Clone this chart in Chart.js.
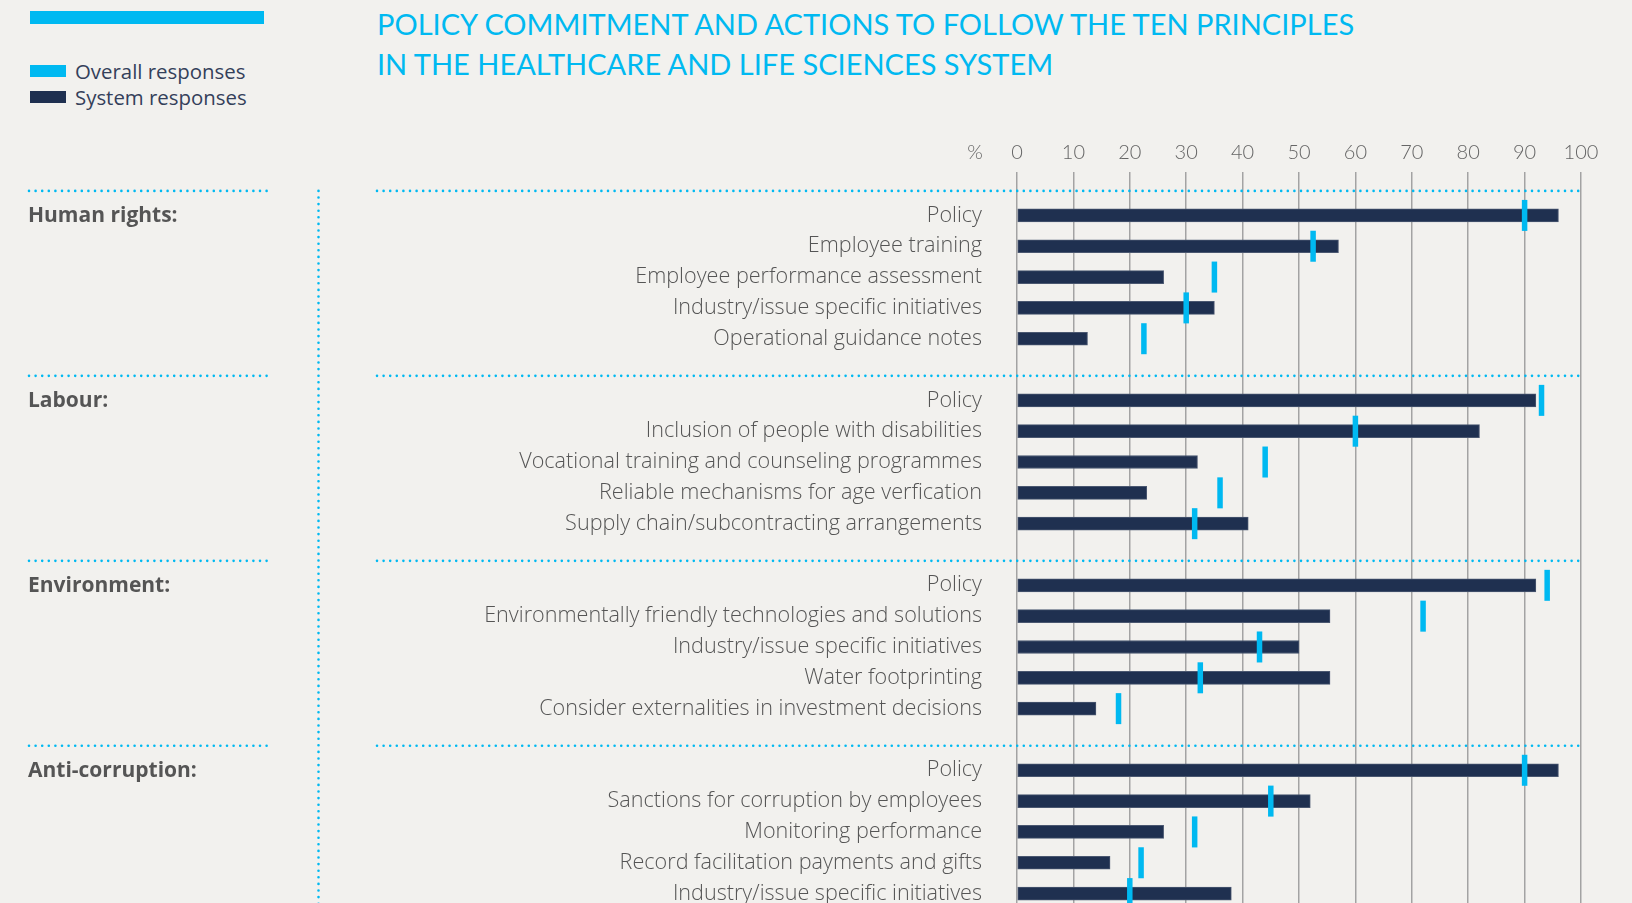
<!DOCTYPE html>
<html lang="en">
<head>
<meta charset="UTF-8">
<title>Policy commitment and actions</title>
<script src="https://cdn.jsdelivr.net/npm/chart.js"></script>
<style>
    html, body {
        margin: 0;
        padding: 0;
        background: #f2f1ee;
        overflow: hidden;
        font-family: 'Open Sans', Lato, sans-serif;
    }
    .topbar {
        position: absolute;
        left: 30px;
        top: 11px;
        width: 234px;
        height: 13px;
        background: #00b9f1;
    }
    .legend {
        position: absolute;
        left: 30px;
        top: 58px;
        font-size: 20.4px;
        color: #34405a;
    }
    .legend div {
        height: 26px;
        display: flex;
        align-items: center;
    }
    .legend span {
        display: inline-block;
        width: 36px;
        height: 12px;
        margin-right: 9px;
    }
    h1 {
        position: absolute;
        left: 377px;
        top: 4px;
        margin: 0;
        font-family: Lato, sans-serif;
        font-size: 29px;
        line-height: 40px;
        font-weight: 400;
        color: #00b9f1;
    }
    canvas {
        position: absolute;
        left: 0;
        top: 0;
    }
</style>
</head>
<body>

<div class="topbar"></div>
<div class="legend">
    <div><span style="background:#00b9f1"></span>Overall responses</div>
    <div><span style="background:#1f3050"></span>System responses</div>
</div>
<h1>POLICY COMMITMENT AND ACTIONS TO FOLLOW THE TEN PRINCIPLES<br>IN THE HEALTHCARE AND LIFE SCIENCES SYSTEM</h1>

<canvas id="chart" width="1632" height="930"></canvas>

<script>
    const groupNames = ['Human rights:', 'Labour:', 'Environment:', 'Anti-corruption:'];

    const humanRightsLabels = ['Policy', 'Employee training', 'Employee performance assessment',
        'Industry/issue specific initiatives', 'Operational guidance notes'];
    const humanRightsSystem = [96, 57, 26, 35, 12.5];
    const humanRightsOverall = [90, 52.5, 35, 30, 22.5];

    const labourLabels = ['Policy', 'Inclusion of people with disabilities', 'Vocational training and counseling programmes',
        'Reliable mechanisms for age verfication', 'Supply chain/subcontracting arrangements'];
    const labourSystem = [92, 82, 32, 23, 41];
    const labourOverall = [93, 60, 44, 36, 31.5];

    const environmentLabels = ['Policy', 'Environmentally friendly technologies and solutions', 'Industry/issue specific initiatives',
        'Water footprinting', 'Consider externalities in investment decisions'];
    const environmentSystem = [92, 55.5, 50, 55.5, 14];
    const environmentOverall = [94, 72, 43, 32.5, 18];

    const antiCorruptionLabels = ['Policy', 'Sanctions for corruption by employees', 'Monitoring performance',
        'Record facilitation payments and gifts', 'Industry/issue specific initiatives'];
    const antiCorruptionSystem = [96, 52, 26, 16.5, 38];
    const antiCorruptionOverall = [90, 45, 31.5, 22, 20];

    const xTicks = [0, 10, 20, 30, 40, 50, 60, 70, 80, 90, 100];

    // one empty row between the groups
    const groups = [
        [humanRightsLabels, humanRightsSystem, humanRightsOverall],
        [labourLabels, labourSystem, labourOverall],
        [environmentLabels, environmentSystem, environmentOverall],
        [antiCorruptionLabels, antiCorruptionSystem, antiCorruptionOverall]
    ];
    const labels = [], system = [], overall = [], groupStarts = [];
    groups.forEach(([l, s, o], i) => {
        if (i > 0) { labels.push(''); system.push(null); overall.push(null); }
        groupStarts.push(labels.length);
        labels.push(...l); system.push(...s); overall.push(...o);
    });

    const CYAN = '#00b9f1';
    const NAVY = '#1f3050';

    const frame = {
        id: 'frame',
        afterDraw(chart) {
            const { ctx, chartArea, scales: { x, y } } = chart;
            const dotted = (x1, y1, x2, y2) => {
                ctx.beginPath(); ctx.moveTo(x1, y1); ctx.lineTo(x2, y2); ctx.stroke();
            };
            ctx.save();
            ctx.strokeStyle = CYAN;
            ctx.lineWidth = 2.6;
            ctx.lineCap = 'round';
            ctx.setLineDash([0, 6.6]);
            const seps = groupStarts.map(i => y.getPixelForValue(i) - 24.5);
            seps.forEach(sy => {
                dotted(29, sy, 268, sy);
                dotted(377, sy, chartArea.right + 1, sy);
            });
            dotted(318.5, seps[0], 318.5, chart.height);
            ctx.setLineDash([]);

            ctx.fillStyle = '#555';
            ctx.font = '700 21px "Open Sans"';
            ctx.textBaseline = 'middle';
            ctx.textAlign = 'left';
            groupStarts.forEach((i, g) => ctx.fillText(groupNames[g], 28, y.getPixelForValue(i) + 1));

            ctx.fillStyle = '#666';
            ctx.font = '300 20px Lato';
            ctx.textAlign = 'center';
            ctx.fillText('%', x.getPixelForValue(0) - 42, x.bottom - 47);
            ctx.restore();
        }
    };

    new Chart(document.getElementById('chart'), {
        type: 'bar',
        data: {
            labels: labels,
            datasets: [{
                type: 'line',
                label: 'Overall responses',
                data: overall,
                indexAxis: 'y',
                showLine: false,
                pointStyle: 'line',
                pointRotation: 90,
                pointRadius: 15.5,
                pointHoverRadius: 15.5,
                pointBorderWidth: 5.5,
                pointBorderColor: CYAN,
                borderColor: CYAN,
                order: 1
            }, {
                label: 'System responses',
                data: system,
                backgroundColor: NAVY,
                borderColor: '#4a5770',
                borderWidth: 1,
                borderSkipped: false,
                barThickness: 13,
                order: 2
            }]
        },
        options: {
            indexAxis: 'y',
            responsive: false,
            animation: false,
            devicePixelRatio: 1,
            layout: { padding: { top: 0, left: 0, right: 51, bottom: 0 } },
            scales: {
                x: {
                    position: 'top',
                    min: 0,
                    max: 100,
                    afterFit: s => { s.height = 200; },
                    afterBuildTicks: s => { s.ticks = xTicks.map(v => ({ value: v })); },
                    border: { display: false },
                    grid: { color: '#a3a3a3', lineWidth: 1.5, tickLength: 28, tickColor: '#a3a3a3' },
                    ticks: {
                        autoSkip: false,
                        padding: 7,
                        color: '#666',
                        font: { family: 'Lato', size: 20, weight: 300 }
                    }
                },
                y: {
                    // fixed label column; no extra room above/below the rows
                    afterFit: s => { s.width = 1017; s.paddingTop = 0; s.paddingBottom = 0; },
                    border: { display: false },
                    grid: { display: false, drawTicks: false },
                    ticks: {
                        autoSkip: false,
                        padding: 35,
                        color: '#555',
                        font: { family: 'Open Sans', size: 21.6, weight: 300 }
                    }
                }
            },
            plugins: {
                legend: { display: false },
                tooltip: { enabled: false }
            }
        },
        plugins: [frame]
    });
</script>

</body>
</html>
